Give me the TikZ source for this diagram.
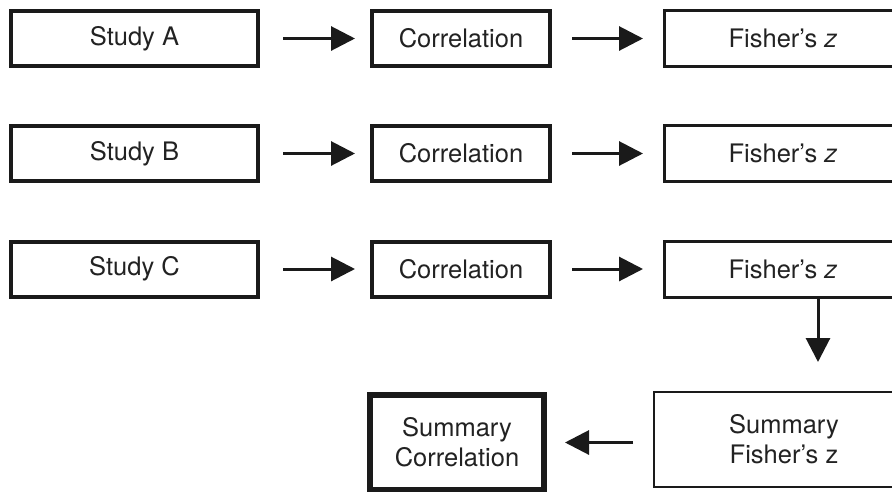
\documentclass[tikz,border=0pt]{standalone}
\usepackage{fontspec}
\setmainfont{TeX Gyre Heros}
\usetikzlibrary{arrows.meta}
\definecolor{ink}{HTML}{1A1A1A}
\definecolor{txt}{HTML}{222222}
\tikzset{
  box/.style={draw=ink, line width=4pt, fill=white, inner sep=0pt, text=txt,
    font=\fontsize{25.5}{30}\selectfont, align=center},
  corrbox/.style={box, minimum width=178pt, minimum height=55pt},
  studybox/.style={box, minimum width=247pt, minimum height=55pt},
  fishbox/.style={box, line width=3pt, minimum width=237pt, minimum height=56pt},
  arr/.style={draw=ink, line width=3pt, -{Triangle[length=24pt,width=24pt]}}
}
\begin{document}
\begin{tikzpicture}[x=1pt,y=-1pt]
\useasboundingbox (0,0) rectangle (892,491);
\clip (0,0) rectangle (892,491);
\fill[white] (0,0) rectangle (892,491);
% row A
\node[studybox] (sA) at (134.5,38.5) {Study A};
\node[corrbox]  (cA) at (461,38.5) {Correlation};
\node[fishbox]  (fA) at (783,38.5) {Fisher's \textit{z}};
% row B
\node[studybox] (sB) at (134.5,153.5) {Study B};
\node[corrbox]  (cB) at (461,153.5) {Correlation};
\node[fishbox]  (fB) at (783,153.5) {Fisher's \textit{z}};
% row C
\node[studybox] (sC) at (134.5,269) {Study C};
\node[corrbox]  (cC) at (461,269) {Correlation};
\node[fishbox]  (fC) at (783,269) {Fisher's \textit{z}};
% summary row
\node[box, line width=6pt, minimum width=174pt, minimum height=95pt] (sc) at (457,442.5) {Summary\\Correlation};
\node[box, line width=2pt, minimum width=260pt, minimum height=95pt] (sf) at (784,439.5) {Summary\\Fisher’s z};
% arrows
\foreach \r in {A,B,C}{
  \draw[arr, shorten <=23pt, shorten >=15pt] (s\r.east) -- (c\r.west);
  \draw[arr, shorten <=20pt, shorten >=20pt] (c\r.east) -- (f\r.west);
}
\coordinate (ax) at (818,0);
\draw[arr, shorten >=29pt] (fC.south -| ax) -- (sf.north -| ax);
\draw[arr, shorten <=20pt, shorten >=18pt] (sf.west |- sc.east) -- (sc.east);
\end{tikzpicture}
\end{document}
